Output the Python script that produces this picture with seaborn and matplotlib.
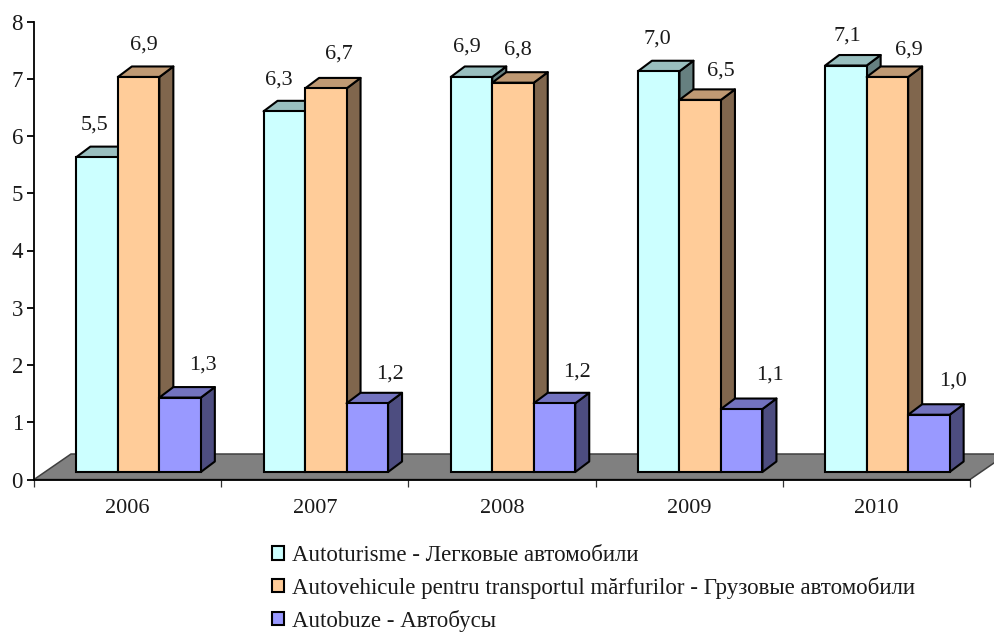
import matplotlib
matplotlib.use("Agg")
import matplotlib.pyplot as plt
from matplotlib.patches import Polygon
from matplotlib.colors import to_rgb
import pandas as pd
import seaborn as sns

years = ["2006", "2007", "2008", "2009", "2010"]
series_names = ["Autoturisme - Легковые автомобили",
                "Autovehicule pentru transportul mărfurilor - Грузовые автомобили",
                "Autobuze - Автобусы"]
cars = [5.5, 6.3, 6.9, 7.0, 7.1]
trucks = [6.9, 6.7, 6.8, 6.5, 6.9]
buses = [1.3, 1.2, 1.2, 1.1, 1.0]
colors = ["#CCFFFF", "#FFCC99", "#9999FF"]
y_ticks = list(range(0, 9))

# hand-placed label offsets from the bar-top centre, in pixels
label_dx = [[-3, -5, -5, -1, 1], [5, 13, 5, 21, 21], [23, 23, 22, 28, 24]]
label_dy = [[32, 31, 30, 32, 29], [32, 34, 33, 29, 27], [33, 29, 31, 34, 34]]

W, H, DPI = 995, 632, 100
sns.set_theme(style="white")
plt.rcParams["font.family"] = ["Liberation Serif", "DejaVu Serif"]

fig = plt.figure(figsize=(W / DPI, H / DPI), dpi=DPI)
fig.patch.set_facecolor("white")
L, R, Y0, Y8 = 34, 970, 479.5, 21.5
ax = fig.add_axes([L / W, 1 - Y0 / H, (R - L) / W, (Y0 - Y8) / H])
OFFX, OFFY = 11, 7.5
bar_ax = fig.add_axes([(L + OFFX) / W, 1 - (Y0 - OFFY) / H, (R - L) / W, (Y0 - Y8) / H])
bar_ax.patch.set_alpha(0)

px_x = 5 / (R - L)
px_y = 8 / (Y0 - Y8)

# main axes: floor, spines, ticks
ax.set_xlim(-0.5, 4.5)
ax.set_ylim(0, 8)
floor_dx, floor_dy = 37 * px_x, 25.5 * px_y
ax.add_patch(Polygon([(-0.5, 0), (-0.5 + floor_dx, floor_dy),
                      (4.5 + floor_dx, floor_dy), (4.5, 0)],
                     closed=True, facecolor="#808080", edgecolor="#404040",
                     lw=1.1, clip_on=False, zorder=1))
for side in ["top", "right"]:
    ax.spines[side].set_visible(False)
for side in ["left", "bottom"]:
    ax.spines[side].set_color("black")
    ax.spines[side].set_linewidth(1.3)
    ax.spines[side].set_zorder(5)
ax.set_yticks(y_ticks)
ax.set_xticks([i - 0.5 for i in range(6)])
ax.set_xticklabels([])
ax.set_xticks(range(5), minor=True)
ax.set_xticklabels(years, minor=True)
ax.tick_params(axis="y", left=True, length=5, width=1.3, color="black", labelsize=16.5, pad=3, labelcolor="#1a1a1a")
ax.tick_params(axis="x", which="major", bottom=True, length=5, width=0.9, color="#333333")
ax.tick_params(axis="x", which="minor", bottom=False, length=0, labelsize=16, pad=14, labelcolor="#1a1a1a")
ax.grid(False)

# bars
df = pd.DataFrame({
    "year": years * 3,
    "series": [s for s in series_names for _ in years],
    "value": cars + trucks + buses,
})
sns.barplot(data=df, x="year", y="value", hue="series", order=years,
            hue_order=series_names, palette=colors, width=0.665, dodge=True,
            saturation=1, edgecolor="black", linewidth=1.5, ax=bar_ax)
handles, labels = bar_ax.get_legend_handles_labels()
bar_ax.get_legend().remove()

depth_x, depth_y = 14 * px_x, 10.5 * px_y
for h_i, container in enumerate(bar_ax.containers):
    base = to_rgb(colors[h_i])
    top_col = tuple(c * 0.75 for c in base)
    side_col = tuple(c * 0.5 for c in base)
    for g_i, bar in enumerate(container):
        x, w, v = bar.get_x(), bar.get_width(), bar.get_height()
        bar.set_zorder(3 + 2 * h_i)
        bar.set_clip_on(False)
        common = dict(closed=True, edgecolor="black", lw=1.5, clip_on=False,
                      zorder=2 + 2 * h_i, joinstyle="round")
        bar_ax.add_patch(Polygon([(x + w, 0), (x + w + depth_x, depth_y),
                                  (x + w + depth_x, v + depth_y), (x + w, v)],
                                 facecolor=side_col, **common))
        bar_ax.add_patch(Polygon([(x, v), (x + w, v), (x + w + depth_x, v + depth_y),
                                  (x + depth_x, v + depth_y)],
                                 facecolor=top_col, **common))
        bar_ax.annotate(f"{v:.1f}".replace(".", ","),
                        xy=(x + w / 2, v),
                        xytext=(label_dx[h_i][g_i] * 0.72, label_dy[h_i][g_i] * 0.72),
                        textcoords="offset points", ha="center", va="center",
                        fontsize=16, color="#1a1a1a", annotation_clip=False, zorder=20)

bar_ax.set_xlim(-0.5, 4.5)
bar_ax.set_ylim(0, 8)
bar_ax.axis("off")

leg = fig.legend(handles, labels, loc="upper left", bbox_to_anchor=(272 / W, 1 - 545 / H),
                 frameon=False, fontsize=16.5, ncol=1, labelspacing=0.47,
                 handlelength=0.52, handleheight=0.52, handletextpad=0.35,
                 borderpad=0, borderaxespad=0, labelcolor="#1a1a1a")
for patch in leg.get_patches():
    patch.set_linewidth(1.5)

fig.savefig("out.png", dpi=DPI)
